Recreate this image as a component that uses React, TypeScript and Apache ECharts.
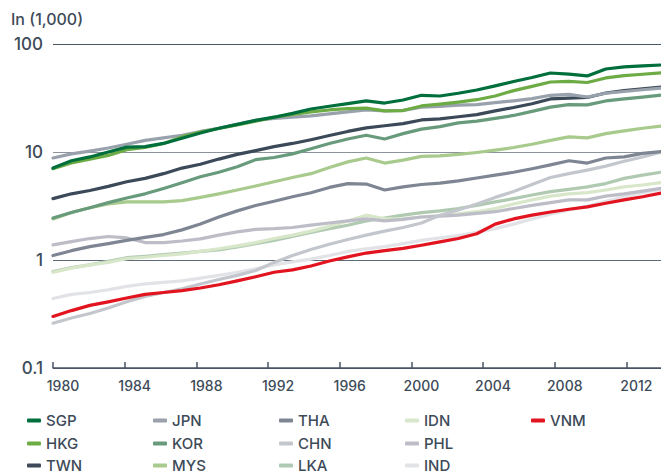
import React, { useEffect, useRef } from "react";
import * as echarts from "echarts";

const years = Array.from({ length: 34 }, (_, i) => 1980 + i);
const xTickYears = [1980, 1984, 1988, 1992, 1996, 2000, 2004, 2008, 2012];
const yTicks = [0.1, 1, 10, 100];

const SGP = [7.1, 8.3, 9.0, 10.0, 11.1, 11.2, 12.0, 13.4, 15.0, 16.6, 18.0, 19.6, 21.0, 22.8, 25.0, 26.5, 28.0, 29.7, 28.4, 30.3, 33.5, 33.0, 35.0, 37.5, 41.0, 45.0, 49.0, 53.9, 52.7, 50.6, 58.7, 61.3, 62.6, 63.9];
const HKG = [7.0, 7.9, 8.6, 9.3, 10.5, 11.0, 12.0, 13.8, 15.3, 16.5, 17.8, 19.3, 21.0, 22.3, 23.5, 24.5, 25.2, 25.5, 24.0, 24.2, 26.7, 27.8, 29.0, 30.5, 33.0, 37.0, 40.5, 44.5, 45.0, 44.0, 48.5, 51.0, 52.5, 54.0];
const TWN = [3.7, 4.1, 4.4, 4.8, 5.3, 5.7, 6.3, 7.1, 7.7, 8.6, 9.5, 10.3, 11.2, 12.0, 13.0, 14.2, 15.5, 16.7, 17.5, 18.3, 19.8, 20.3, 21.2, 22.2, 24.0, 25.8, 28.0, 31.0, 31.6, 32.0, 35.2, 37.0, 38.5, 40.0];
const JPN = [8.8, 9.6, 10.2, 10.9, 11.8, 12.8, 13.5, 14.3, 15.5, 16.6, 18.0, 19.6, 20.5, 21.0, 21.6, 22.5, 23.5, 24.5, 24.0, 24.3, 26.0, 26.5, 27.2, 27.5, 28.7, 29.8, 31.2, 33.5, 34.2, 32.3, 35.0, 36.3, 37.7, 39.0];
const KOR = [2.45, 2.75, 3.05, 3.4, 3.75, 4.1, 4.6, 5.2, 5.9, 6.5, 7.3, 8.5, 8.9, 9.6, 10.7, 12.0, 13.2, 14.3, 13.2, 14.8, 16.3, 17.2, 18.6, 19.3, 20.5, 21.8, 23.8, 26.0, 27.5, 27.3, 29.7, 31.0, 32.2, 33.7];
const MYS = [2.4, 2.75, 3.05, 3.3, 3.45, 3.45, 3.45, 3.55, 3.8, 4.1, 4.45, 4.85, 5.3, 5.8, 6.3, 7.2, 8.1, 8.8, 7.9, 8.4, 9.1, 9.2, 9.5, 9.9, 10.4, 11.0, 11.8, 12.8, 13.8, 13.5, 14.8, 15.7, 16.6, 17.4];
const THA = [1.1, 1.22, 1.33, 1.42, 1.52, 1.62, 1.72, 1.9, 2.15, 2.5, 2.85, 3.2, 3.5, 3.85, 4.2, 4.7, 5.1, 5.05, 4.45, 4.75, 5.0, 5.15, 5.4, 5.75, 6.1, 6.5, 7.0, 7.6, 8.3, 7.9, 8.8, 9.0, 9.7, 10.1];
const CHN = [0.26, 0.29, 0.32, 0.36, 0.41, 0.46, 0.5, 0.54, 0.6, 0.66, 0.72, 0.8, 0.95, 1.1, 1.25, 1.4, 1.55, 1.7, 1.85, 2.0, 2.2, 2.6, 2.9, 3.3, 3.8, 4.3, 5.0, 5.8, 6.3, 6.8, 7.4, 8.2, 9.0, 10.0];
const LKA = [0.78, 0.85, 0.9, 0.97, 1.05, 1.08, 1.12, 1.16, 1.2, 1.24, 1.32, 1.42, 1.52, 1.65, 1.8, 1.95, 2.1, 2.3, 2.45, 2.6, 2.75, 2.85, 3.0, 3.2, 3.45, 3.7, 4.0, 4.3, 4.5, 4.75, 5.1, 5.7, 6.1, 6.5];
const IDN = [0.77, 0.84, 0.9, 0.95, 1.03, 1.06, 1.1, 1.14, 1.2, 1.27, 1.35, 1.45, 1.58, 1.7, 1.85, 2.05, 2.3, 2.6, 2.4, 2.42, 2.5, 2.58, 2.68, 2.8, 3.0, 3.3, 3.6, 3.9, 4.1, 4.2, 4.45, 4.75, 4.95, 5.2];
const PHL = [1.38, 1.48, 1.58, 1.65, 1.6, 1.45, 1.45, 1.5, 1.57, 1.7, 1.82, 1.92, 1.95, 2.0, 2.1, 2.2, 2.3, 2.4, 2.3, 2.38, 2.5, 2.55, 2.6, 2.7, 2.8, 3.0, 3.2, 3.4, 3.6, 3.6, 3.9, 4.1, 4.35, 4.6];
const IND = [0.44, 0.48, 0.5, 0.53, 0.57, 0.6, 0.62, 0.64, 0.68, 0.72, 0.77, 0.83, 0.9, 0.96, 1.02, 1.1, 1.2, 1.27, 1.33, 1.42, 1.52, 1.6, 1.68, 1.8, 1.95, 2.15, 2.4, 2.65, 2.9, 3.15, 3.5, 3.85, 4.2, 4.5];
const VNM = [0.3, 0.34, 0.38, 0.41, 0.445, 0.48, 0.5, 0.52, 0.55, 0.59, 0.64, 0.7, 0.77, 0.81, 0.88, 0.98, 1.07, 1.16, 1.22, 1.28, 1.37, 1.47, 1.58, 1.75, 2.15, 2.4, 2.6, 2.78, 2.95, 3.1, 3.35, 3.6, 3.85, 4.17];

// legend laid out column by column (col, row)
const seriesDefs = [
  { name: "SGP", data: SGP, color: "#006f3c", col: 0, row: 0 },
  { name: "HKG", data: HKG, color: "#6dab45", col: 0, row: 1 },
  { name: "TWN", data: TWN, color: "#3c4958", col: 0, row: 2 },
  { name: "JPN", data: JPN, color: "#99a2ac", col: 1, row: 0 },
  { name: "KOR", data: KOR, color: "#689a7c", col: 1, row: 1 },
  { name: "MYS", data: MYS, color: "#a8ca8d", col: 1, row: 2 },
  { name: "THA", data: THA, color: "#7e8693", col: 2, row: 0 },
  { name: "CHN", data: CHN, color: "#c3c7cd", col: 2, row: 1 },
  { name: "LKA", data: LKA, color: "#b0cab2", col: 2, row: 2 },
  { name: "IDN", data: IDN, color: "#d8e6c9", col: 3, row: 0 },
  { name: "PHL", data: PHL, color: "#bdbdc8", col: 3, row: 1 },
  { name: "IND", data: IND, color: "#e1e3e7", col: 3, row: 2 },
  { name: "VNM", data: VNM, color: "#e2141f", col: 4, row: 0 },
];

const drawOrder = ["IND", "LKA", "IDN", "PHL", "CHN", "VNM", "THA", "MYS", "KOR", "TWN", "JPN", "HKG", "SGP"];

const TEXT = "#3d4a58";
const FONT = "Inter, 'Open Sans', sans-serif";

export default function App() {
  const ref = useRef<HTMLDivElement>(null);
  useEffect(() => {
    if (!ref.current) return;
    const chart = echarts.init(ref.current, null, { renderer: "svg" });
    const colLeft = [27, 153, 279, 405, 531];
    const rowTop = [413, 436, 458];
    const legends = seriesDefs.map((s) => ({
      data: [s.name],
      left: colLeft[s.col],
      top: rowTop[s.row],
      itemWidth: 14,
      itemHeight: 4,
      itemGap: 0,
      icon: "roundRect",
      selectedMode: false,
      padding: 0,
      textStyle: { color: TEXT, fontSize: 15, fontFamily: FONT, fontWeight: 500 },
    }));
    const series = drawOrder.map((n) => {
      const s = seriesDefs.find((d) => d.name === n)!;
      return {
        name: s.name,
        type: "line",
        xAxisIndex: 0,
        showSymbol: false,
        symbol: "none",
        data: years.map((y, i) => [y, s.data[i]]),
        lineStyle: { width: 3.2, color: s.color, cap: "round", join: "round" },
        itemStyle: { color: s.color },
        emphasis: { disabled: true },
      };
    });
    chart.setOption({
      animation: false,
      backgroundColor: "#ffffff",
      textStyle: { fontFamily: FONT },
      graphic: [
        {
          type: "text",
          left: 11,
          top: 11,
          style: { text: "In (1,000)", fontSize: 16, fill: TEXT, fontFamily: FONT, fontWeight: 500 },
        },
      ],
      legend: legends,
      grid: { left: 53, right: 0, top: 44, bottom: 107, containLabel: false },
      xAxis: [
        {
          type: "value",
          min: years[0],
          max: years[years.length - 1],
          show: false,
        },
        {
          type: "value",
          min: 1980,
          max: 2013.93,
          interval: 4,
          position: "bottom",
          axisLine: { show: true, lineStyle: { color: "#4a5563", width: 1.5 } },
          axisTick: { show: true, inside: true, length: 6, lineStyle: { color: "#4a5563", width: 1.5 } },
          splitLine: { show: false },
          axisLabel: {
            color: TEXT,
            fontSize: 14,
            fontFamily: FONT,
            fontWeight: 500,
            margin: 10,
            showMaxLabel: false,
            padding: [0, 0, 0, 20],
            formatter: (v: number) => (xTickYears.includes(v) ? String(v) : ""),
          },
        },
      ],
      yAxis: {
        type: "log",
        logBase: 10,
        min: yTicks[0],
        max: yTicks[yTicks.length - 1],
        axisLine: { show: false },
        axisTick: { show: false },
        axisLabel: {
          color: TEXT,
          fontSize: 17,
          fontFamily: FONT,
          fontWeight: 500,
          margin: 10,
          formatter: (v: number) => String(v),
        },
        splitLine: {
          show: true,
          lineStyle: { color: ["#4a5563", "#5e6c7a", "#8d939b", "#4a5563"], width: 1.2 },
        },
      },
      series,
    });
    return () => chart.dispose();
  }, []);
  return <div ref={ref} style={{ width: 661, height: 475, position: "absolute", left: 0, top: 0 }} />;
}
